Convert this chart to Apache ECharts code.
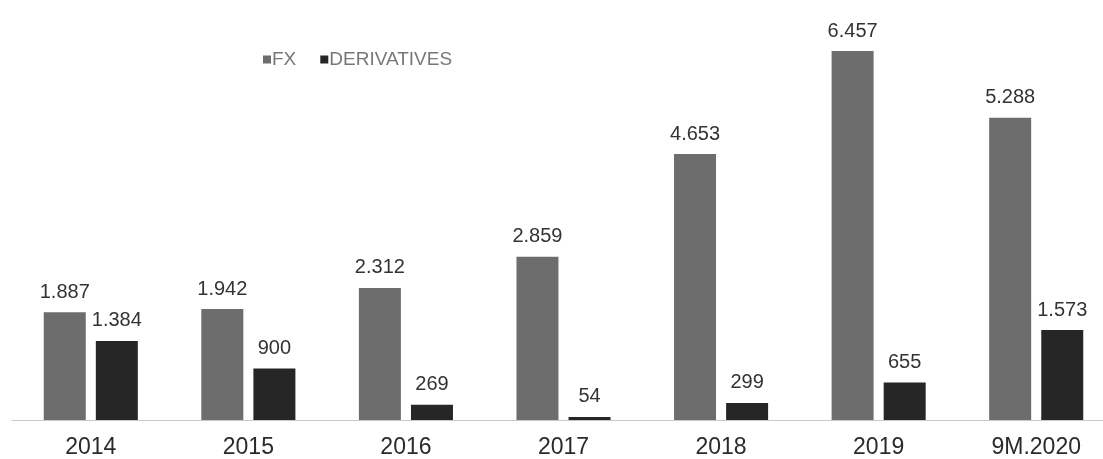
<!DOCTYPE html>
<html>
<head>
<meta charset="utf-8">
<script src="https://cdn.jsdelivr.net/npm/echarts@6/dist/echarts.min.js"></script>
<style>
html,body{margin:0;padding:0;background:#fff;overflow:hidden;}
#c{width:1116px;height:459px;}
</style>
</head>
<body>
<div id="c"></div>
<script>
const categories = ['2014', '2015', '2016', '2017', '2018', '2019', '9M.2020'];
const fxValues = [1887, 1942, 2312, 2859, 4653, 6457, 5288];
const derivativesValues = [1384, 900, 269, 54, 299, 655, 1573];
const seriesNames = ['FX', 'DERIVATIVES'];

function fmt(v) {
  return String(v).replace(/\B(?=(\d{3})+(?!\d))/g, '.');
}

const chart = echarts.init(document.getElementById('c'), null, {renderer: 'canvas'});
const labelStyle = {
  show: true,
  position: 'top',
  distance: 10,
  fontFamily: 'Liberation Sans, Arial, sans-serif',
  fontSize: 20,
  color: '#333',
  formatter: p => fmt(p.value)
};
chart.setOption({
  backgroundColor: '#ffffff',
  animation: false,
  legend: {
    data: seriesNames,
    left: 258,
    top: 45,
    icon: 'rect',
    itemWidth: 8,
    itemHeight: 8,
    itemGap: 24,
    textStyle: {fontFamily: 'Liberation Sans, Arial, sans-serif', fontSize: 19, color: '#777', padding: [0, 0, 0, -4]}
  },
  grid: {left: 12, right: 1, top: 20, bottom: 39, containLabel: false},
  xAxis: {
    type: 'category',
    data: categories,
    axisLine: {show: true, lineStyle: {color: '#c8c8c8', width: 1}},
    axisTick: {show: false},
    axisLabel: {
      margin: 16,
      fontFamily: 'Liberation Sans, Arial, sans-serif',
      fontSize: 23,
      color: '#2a2a2a'
    }
  },
  yAxis: {
    type: 'value',
    min: 0,
    max: 7000,
    show: false,
    splitLine: {show: false}
  },
  series: [
    {
      name: seriesNames[0],
      type: 'bar',
      data: fxValues,
      barWidth: 42,
      barGap: '24%',
      itemStyle: {color: '#6d6d6d'},
      label: labelStyle
    },
    {
      name: seriesNames[1],
      type: 'bar',
      data: derivativesValues,
      barWidth: 42,
      barGap: '24%',
      itemStyle: {color: '#262626'},
      label: labelStyle
    }
  ]
});
</script>
</body>
</html>
